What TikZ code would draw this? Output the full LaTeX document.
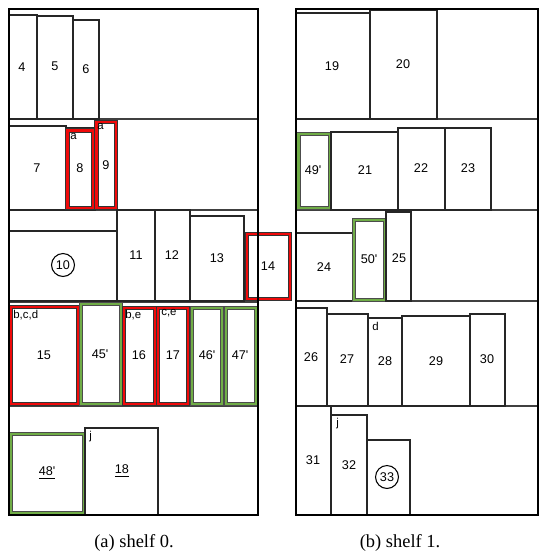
\documentclass[tikz,border=0pt]{standalone}
\usepackage{fontspec}
\setmainfont{Liberation Serif}
\newfontfamily\lblfont{Liberation Sans}
\definecolor{okgreen}{RGB}{112,173,71}
\definecolor{ngred}{RGB}{240,10,10}
\tikzset{
  frame/.style={draw=black, line width=1.3pt},
  divider/.style={draw=black!75, line width=0.6pt},
  book/.style={draw=black!85, line width=0.6pt},
  ngbook/.style={draw=ngred, line width=1.6pt, preaction={draw=black!80, line width=2.6pt}},
  okbook/.style={draw=okgreen, line width=1.6pt, preaction={draw=black!70, line width=2.4pt}},
  num/.style={font=\lblfont\fontsize{7.2}{8}\selectfont, inner sep=0pt},
  tag/.style={font=\lblfont\fontsize{6.5}{7}\selectfont, inner sep=0pt, anchor=north west},
  circ/.style={num, circle, draw, line width=0.6pt, inner sep=1.3pt},
  caption/.style={font=\fontsize{10.5}{12}\selectfont, inner sep=0pt}
}
\begin{document}
\begin{tikzpicture}[x=0.02cm, y=-0.02cm]
\useasboundingbox (0,0) rectangle (541,558);
% shelf 0
\draw[divider] (9,119) -- (258,119);
\draw[divider] (9,210) -- (258,210);
\draw[divider] (9,302) -- (258,302);
\draw[divider] (9,406) -- (258,406);
\draw[book] (9,15) rectangle (37,119);
\draw[book] (37,16) rectangle (73,119);
\draw[book] (73,20) rectangle (99,119);
\node[num] (b4) at (22,67) {4};
\node[num] (b5) at (55,66) {5};
\node[num] (b6) at (86,69) {6};
\draw[book] (9,126) rectangle (66,210);
\draw[book] (66,128) rectangle (95,210);
\draw[ngbook] (67.5,130.5) rectangle (93,208);
\draw[ngbook] (96.5,122) rectangle (116,208);
\node[num] (b7) at (37,168) {7};
\node[tag] (t8) at (70,133) {a};
\node[num] (b8) at (80,168) {8};
\node[tag] (t9) at (97,123) {a};
\node[num] (b9) at (106,165) {9};
\draw[book] (9,231) rectangle (117,301);
\draw[book] (117,210) rectangle (155,301);
\draw[book] (155,210) rectangle (190,301);
\draw[book] (190,216) rectangle (244,301);
\node[circ] (b10) at (63,265) {10};
\node[num] (b11) at (136,255) {11};
\node[num] (b12) at (172,255) {12};
\node[num] (b13) at (217,258) {13};
\draw[ngbook] (247,234) rectangle (290,299);
\node[num] (b14) at (268,266) {14};
\draw[ngbook] (10.5,307) rectangle (78,404);
\draw[okbook] (81,304) rectangle (121,404);
\draw[ngbook] (124,308) rectangle (155,404);
\draw[ngbook] (158,308) rectangle (188,404);
\draw[okbook] (192,308) rectangle (222,404);
\draw[okbook] (226,308) rectangle (256,404);
\node[tag] (t15) at (13,310) {b,c,d};
\node[num] (b15) at (44,355) {15};
\node[num] (b45) at (100,354) {45'};
\node[tag] (t16) at (125,310) {b,e};
\node[num] (b16) at (139,355) {16};
\node[tag] (t17) at (161,309) {c,e};
\node[num] (b17) at (173,355) {17};
\node[num] (b46) at (207,355) {46'};
\node[num] (b47) at (240,355) {47'};
\draw[okbook] (11,434) rectangle (84,513);
\draw[book] (85,428) rectangle (158,515);
\node[num] (b48) at (47,473) {\underline{48'}};
\node[tag] (t18) at (89,431) {j};
\node[num] (b18) at (122,471) {\underline{18}};
\draw[frame] (9,9) rectangle (258,515);
\node[caption] (capa) at (134,543) {(a) shelf 0.};
% shelf 1
\draw[divider] (296,119) -- (538,119);
\draw[divider] (296,210) -- (538,210);
\draw[divider] (296,301) -- (538,301);
\draw[divider] (296,406) -- (538,406);
\draw[book] (296,13) rectangle (370,119);
\draw[book] (370,10) rectangle (437,119);
\node[num] (b19) at (332,66) {19};
\node[num] (b20) at (403,64) {20};
\draw[okbook] (298.5,134) rectangle (330,208);
\draw[book] (331,132) rectangle (398,210);
\draw[book] (398,128) rectangle (445,210);
\draw[book] (445,128) rectangle (491,210);
\node[num] (b49) at (313,170) {49'};
\node[num] (b21) at (365,170) {21};
\node[num] (b22) at (421,168) {22};
\node[num] (b23) at (468,168) {23};
\draw[book] (296,233) rectangle (353,301);
\draw[okbook] (354,220) rectangle (385,300);
\draw[book] (386,212) rectangle (411,301);
\node[num] (b24) at (324,267) {24};
\node[num] (b50) at (369,259) {50'};
\node[num] (b25) at (399,258) {25};
\draw[book] (296,308) rectangle (327,406);
\draw[book] (327,314) rectangle (368,406);
\draw[book] (368,318) rectangle (402,406);
\draw[book] (402,316) rectangle (470,406);
\draw[book] (470,314) rectangle (505,406);
\node[num] (b26) at (311,357) {26};
\node[num] (b27) at (347,359) {27};
\node[tag] (t28) at (372,322) {d};
\node[num] (b28) at (385,361) {28};
\node[num] (b29) at (436,361) {29};
\node[num] (b30) at (487,359) {30};
\draw[book] (296,406) rectangle (331,515);
\draw[book] (331,415) rectangle (367,515);
\draw[book] (367,440) rectangle (410,515);
\node[num] (b31) at (313,460) {31};
\node[tag] (t32) at (336,418) {j};
\node[num] (b32) at (349,465) {32};
\node[circ] (b33) at (387,477) {33};
\draw[frame] (296,9) rectangle (538,515);
\node[caption] (capb) at (400,543) {(b) shelf 1.};
\end{tikzpicture}
\end{document}
